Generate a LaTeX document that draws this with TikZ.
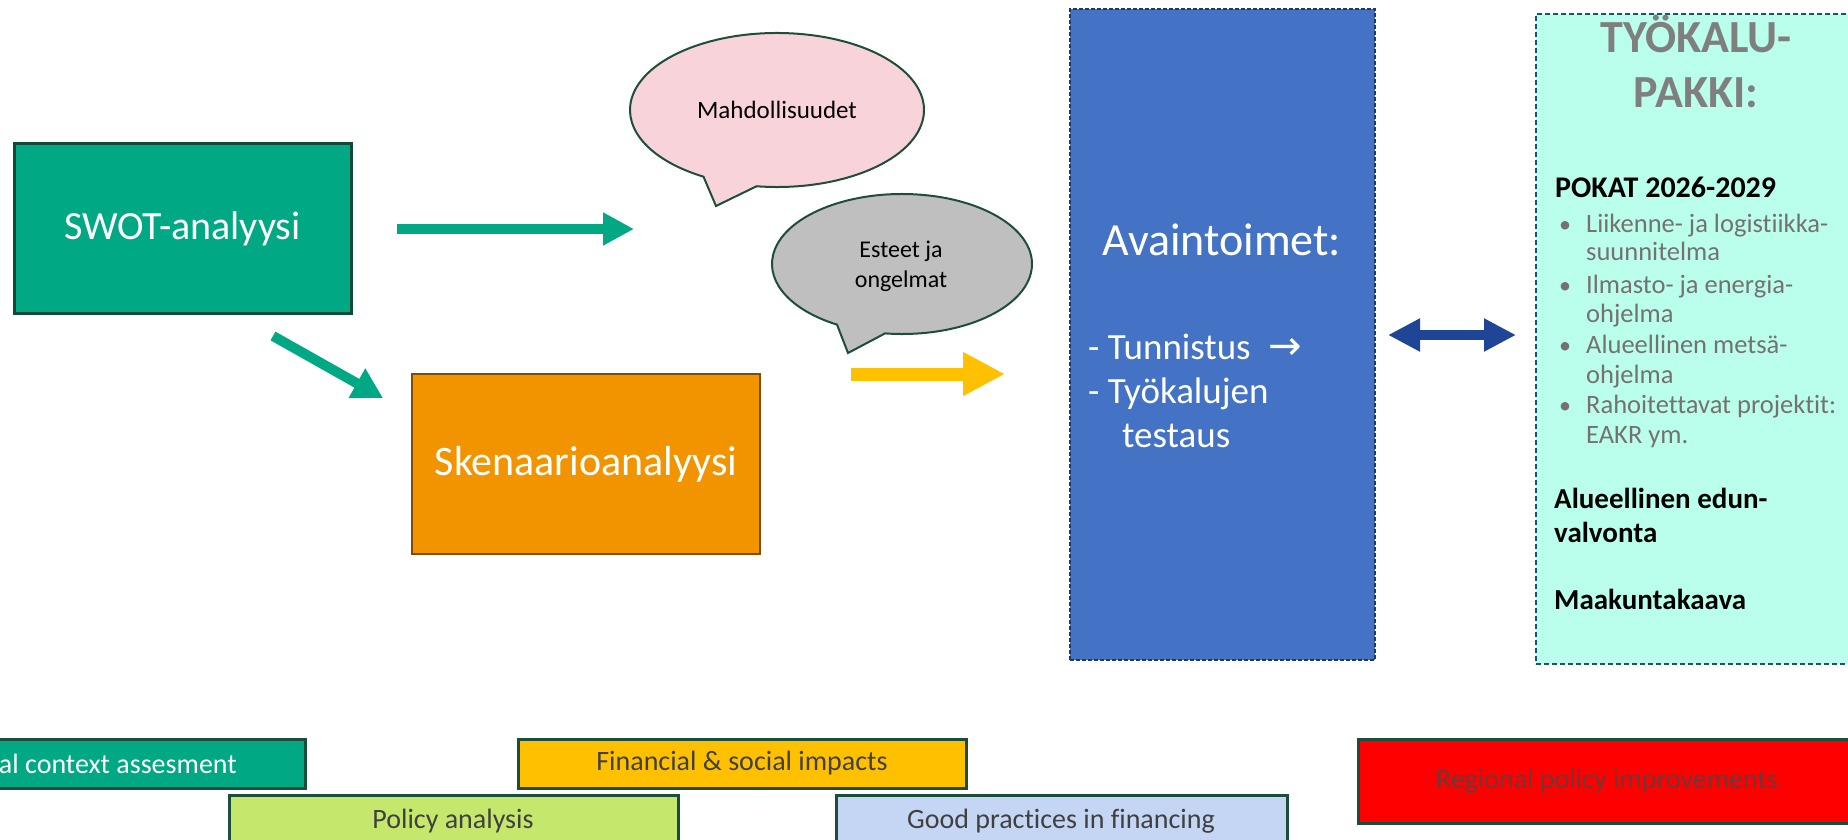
\documentclass[tikz,border=0pt]{standalone}
\usepackage{fontspec}
\setmainfont{Carlito}[Ligatures=NoCommon]
\newfontfamily\arrowfont{DejaVu Sans}
\usetikzlibrary{arrows.meta}
\definecolor{swot}{HTML}{00A884}
\definecolor{swotb}{HTML}{0E4A38}
\definecolor{orng}{HTML}{F29300}
\definecolor{orngb}{HTML}{7F4C00}
\definecolor{pinkf}{HTML}{F9D3DA}
\definecolor{grayf}{HTML}{BFBFBF}
\definecolor{bubb}{HTML}{1E4D3D}
\definecolor{yel}{HTML}{FFC000}
\definecolor{avblue}{HTML}{4472C4}
\definecolor{avb}{HTML}{1F3864}
\definecolor{aqua}{HTML}{B9FFEC}
\definecolor{aquab}{HTML}{1F4E79}
\definecolor{darr}{HTML}{1F4596}
\definecolor{titlegray}{HTML}{7F7F7F}
\definecolor{bulgray}{HTML}{767171}
\definecolor{lgreen}{HTML}{C5E86C}
\definecolor{lblue}{HTML}{C5D5F4}
\definecolor{txtgray}{HTML}{404040}
\definecolor{redtxt}{HTML}{6A3A3A}
\definecolor{botb}{HTML}{1B4D3A}
\newcommand\pxfont[1]{\fontsize{#1}{#1}\selectfont}
\begin{document}
\begin{tikzpicture}[x=1pt,y=-1pt,
  box/.style={inner sep=0pt, outer sep=0pt},
  bbox/.style={draw=botb, line width=3pt, inner sep=0pt, outer sep=0pt},
  lbl/.style={inner sep=0pt, anchor=base west},
  bubble/.style={draw=bubb, line width=2pt},
  blockarrow/.style={draw=#1, line join=miter}
]
\useasboundingbox (0,0) rectangle (1848,840);
\clip (0,0) rectangle (1848,840);

% SWOT and scenario boxes
\node[box, draw=swotb, line width=3pt, fill=swot, minimum width=337pt, minimum height=169pt,
  text=white, font=\pxfont{40}] (swot) at (182.5,228.5) {SWOT-analyysi};
\node[box, draw=orngb, line width=2pt, fill=orng, minimum width=348pt, minimum height=180pt,
  text=white, font=\pxfont{42}] (sken) at (586,464) {Skenaarioanalyysi};

% speech bubbles
\draw[bubble, fill=pinkf] (777,110) ++(98:147 and 77)
  arc[start angle=98, end angle=-240, x radius=147, y radius=77] -- (716,206) -- cycle;
\node[font=\pxfont{25}] (mahd) at (777,110) {Mahdollisuudet};
\draw[bubble, fill=grayf] (902,264) ++(97.5:130 and 70)
  arc[start angle=97.5, end angle=-240, x radius=130, y radius=70] -- (848,353) -- cycle;
\node[font=\fontsize{24}{30}\selectfont, align=center, inner sep=0pt] (este) at (901,266) {Esteet ja\\ongelmat};

% block arrows
\coordinate (g1s) at (397,229); \coordinate (g1e) at (634,229);
\draw[blockarrow=swot, line width=10pt, -{Triangle[length=31pt,width=31pt]}] (g1s) -- (g1e);
\coordinate (g2s) at (273,336); \coordinate (g2e) at (383,398);
\draw[blockarrow=swot, line width=10pt, -{Triangle[length=30pt,width=32pt]}] (g2s) -- (g2e);
\coordinate (y1s) at (851,374); \coordinate (y1e) at (1005,374);
\draw[blockarrow=yel, line width=13pt, -{Triangle[length=42pt,width=41pt]}] (y1s) -- (y1e);

% key actions box
\node[box, draw=avb, line width=1.5pt, dash pattern=on 4pt off 2pt, fill=avblue,
  minimum width=305pt, minimum height=651pt] (avain) at (1222.5,334.5) {};
\node[lbl, text=white, font=\pxfont{46}] (av1) at (1102,255) {Avaintoimet:};
\node[lbl, text=white, font=\pxfont{37}] (av2) at (1088,359) {- Tunnistus\hspace{18pt}{\arrowfont\pxfont{40}→}};
\node[lbl, text=white, font=\pxfont{37}] (av3) at (1088,403) {- Työkalujen};
\node[lbl, text=white, font=\pxfont{37}] (av4) at (1122,447) {testaus};

% double arrow
\coordinate (d1) at (1388,335); \coordinate (d2) at (1516,335);
\draw[blockarrow=darr, line width=10pt, {Triangle[length=32pt,width=31pt]}-{Triangle[length=32pt,width=31pt]}] (d1) -- (d2);

% toolkit box
\node[box, draw=aquab, line width=2pt, dash pattern=on 5pt off 3pt, fill=aqua,
  minimum width=334pt, minimum height=650pt] (tk) at (1703,339) {};
\node[inner sep=0pt, anchor=base, text=titlegray, font=\pxfont{46}\bfseries] (tk1) at (1696,53) {TYÖKALU-};
\node[inner sep=0pt, anchor=base, text=titlegray, font=\pxfont{46}\bfseries] (tk2) at (1696,108) {PAKKI:};
\node[lbl, font=\pxfont{30}\bfseries] (pokat) at (1555,197) {POKAT 2026-2029};
\node[lbl, text=bulgray, font=\pxfont{24}] (b1) at (1559,232) {•};
\node[lbl, text=bulgray, font=\pxfont{26.5}] (t1) at (1586,232) {Liikenne- ja logistiikka-};
\node[lbl, text=bulgray, font=\pxfont{26.5}] (t2) at (1586,260) {suunnitelma};
\node[lbl, text=bulgray, font=\pxfont{24}] (b2) at (1559,293) {•};
\node[lbl, text=bulgray, font=\pxfont{26.5}] (t3) at (1586,293) {Ilmasto- ja energia-};
\node[lbl, text=bulgray, font=\pxfont{26.5}] (t4) at (1586,322) {ohjelma};
\node[lbl, text=bulgray, font=\pxfont{24}] (b3) at (1559,353) {•};
\node[lbl, text=bulgray, font=\pxfont{26.5}] (t5) at (1586,353) {Alueellinen metsä-};
\node[lbl, text=bulgray, font=\pxfont{26.5}] (t6) at (1586,383) {ohjelma};
\node[lbl, text=bulgray, font=\pxfont{24}] (b4) at (1559,413) {•};
\node[lbl, text=bulgray, font=\pxfont{26.5}] (t7) at (1586,413) {Rahoitettavat projektit:};
\node[lbl, text=bulgray, font=\pxfont{26.5}] (t8) at (1586,443) {EAKR ym.};
\node[lbl, font=\pxfont{29}\bfseries] (al1) at (1554,508) {Alueellinen edun-};
\node[lbl, font=\pxfont{29}\bfseries] (al2) at (1554,542) {valvonta};
\node[lbl, font=\pxfont{29}\bfseries] (mk) at (1554,609) {Maakuntakaava};

% bottom boxes
\node[bbox, fill=swot, minimum width=345pt, minimum height=49pt] (ctx) at (132.5,763.5) {};
\node[inner sep=0pt, anchor=base east, text=white, font=\pxfont{28}] (ctxt) at (237,773) {al context assesment};
\node[bbox, fill=yel, minimum width=448pt, minimum height=49pt, text=txtgray, font=\pxfont{28}] (fin) at (742,763.5) {Financial \& social impacts};
\node[bbox, fill=lgreen, minimum width=449pt, minimum height=80pt] (pol) at (453.5,835) {};
\node[inner sep=0pt, anchor=base, text=txtgray, font=\pxfont{28}] (polt) at (453,828) {Policy analysis};
\node[bbox, fill=lblue, minimum width=451pt, minimum height=80pt] (gp) at (1061.5,835) {};
\node[inner sep=0pt, anchor=base, text=txtgray, font=\pxfont{28}] (gpt) at (1061,828) {Good practices in financing};
\node[bbox, fill=red, minimum width=498pt, minimum height=84pt, text=redtxt, font=\pxfont{28}] (reg) at (1607,781) {Regional policy improvements};
\end{tikzpicture}
\end{document}
